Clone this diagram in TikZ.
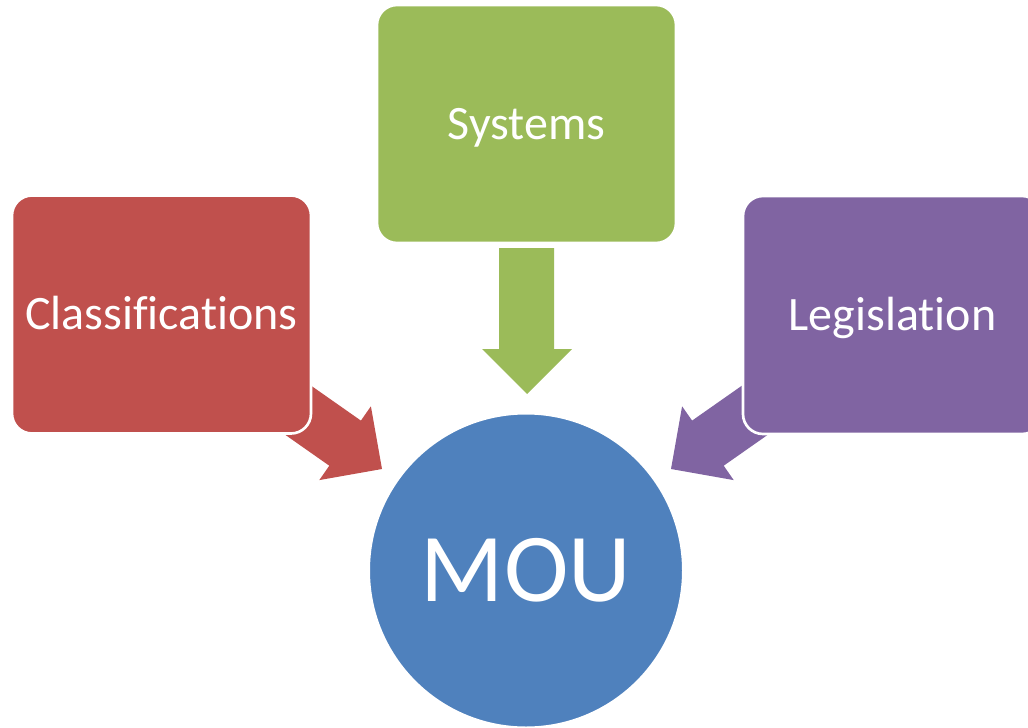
\documentclass[tikz,border=0pt]{standalone}
\usepackage{fontspec}
\setmainfont[Ligatures={NoCommon,NoContextual}]{Carlito}
\definecolor{sysgreen}{HTML}{9BBB59}
\definecolor{clsred}{HTML}{C0504D}
\definecolor{legpurple}{HTML}{8064A2}
\definecolor{moublue}{HTML}{4F81BD}
\tikzset{every picture/.style={line width=0.75pt}}
\tikzset{
  topicbox/.style={draw=white, line width=2pt, rounded corners=15pt, minimum width=224.25pt, minimum height=178.5pt, text=white, font=\fontsize{36}{40}\selectfont, inner sep=0pt, text height=23pt, text depth=0pt},
  hubdisc/.style={circle, draw=white, line width=2pt, minimum size=236pt, text=white, font=\fontsize{73}{80}\selectfont, inner sep=0pt}
}

\begin{document}
\begin{tikzpicture}[x=0.75pt,y=0.75pt,yscale=-1,xscale=1]
\useasboundingbox (0,0) rectangle (1028,728);
\clip (0,0) rectangle (1028,728);

% block arrows
\fill  [sysgreen]  (499,248) -- (554,248) -- (554,349) -- (572,349) -- (527,394) -- (482,349) -- (499,349) -- cycle ;
\fill  [clsred]  (278.2,362.6) -- (360.9,420.6) -- (370.9,406.3) -- (382,469) -- (319.3,480.1) -- (329.3,465.7) -- (246.6,407.7) -- cycle ;
\fill  [legpurple]  (774.8,362.6) -- (692.1,420.6) -- (682.1,406.3) -- (671,469) -- (733.7,480.1) -- (723.7,465.7) -- (806.4,407.7) -- cycle ;

% topics
\node (sys) [topicbox, fill=sysgreen] at (526.5,124) {Systems};
\node (cls) [topicbox, fill=clsred] at (161.5,314.5) {Classif\kern0pt ications};
\node (leg) [topicbox, fill=legpurple] at (892.5,315) {Legislat\kern0pt ion};

% hub
\node (mou) [hubdisc, fill=moublue] at (526,570.5) {MOU};

\end{tikzpicture}
\end{document}
